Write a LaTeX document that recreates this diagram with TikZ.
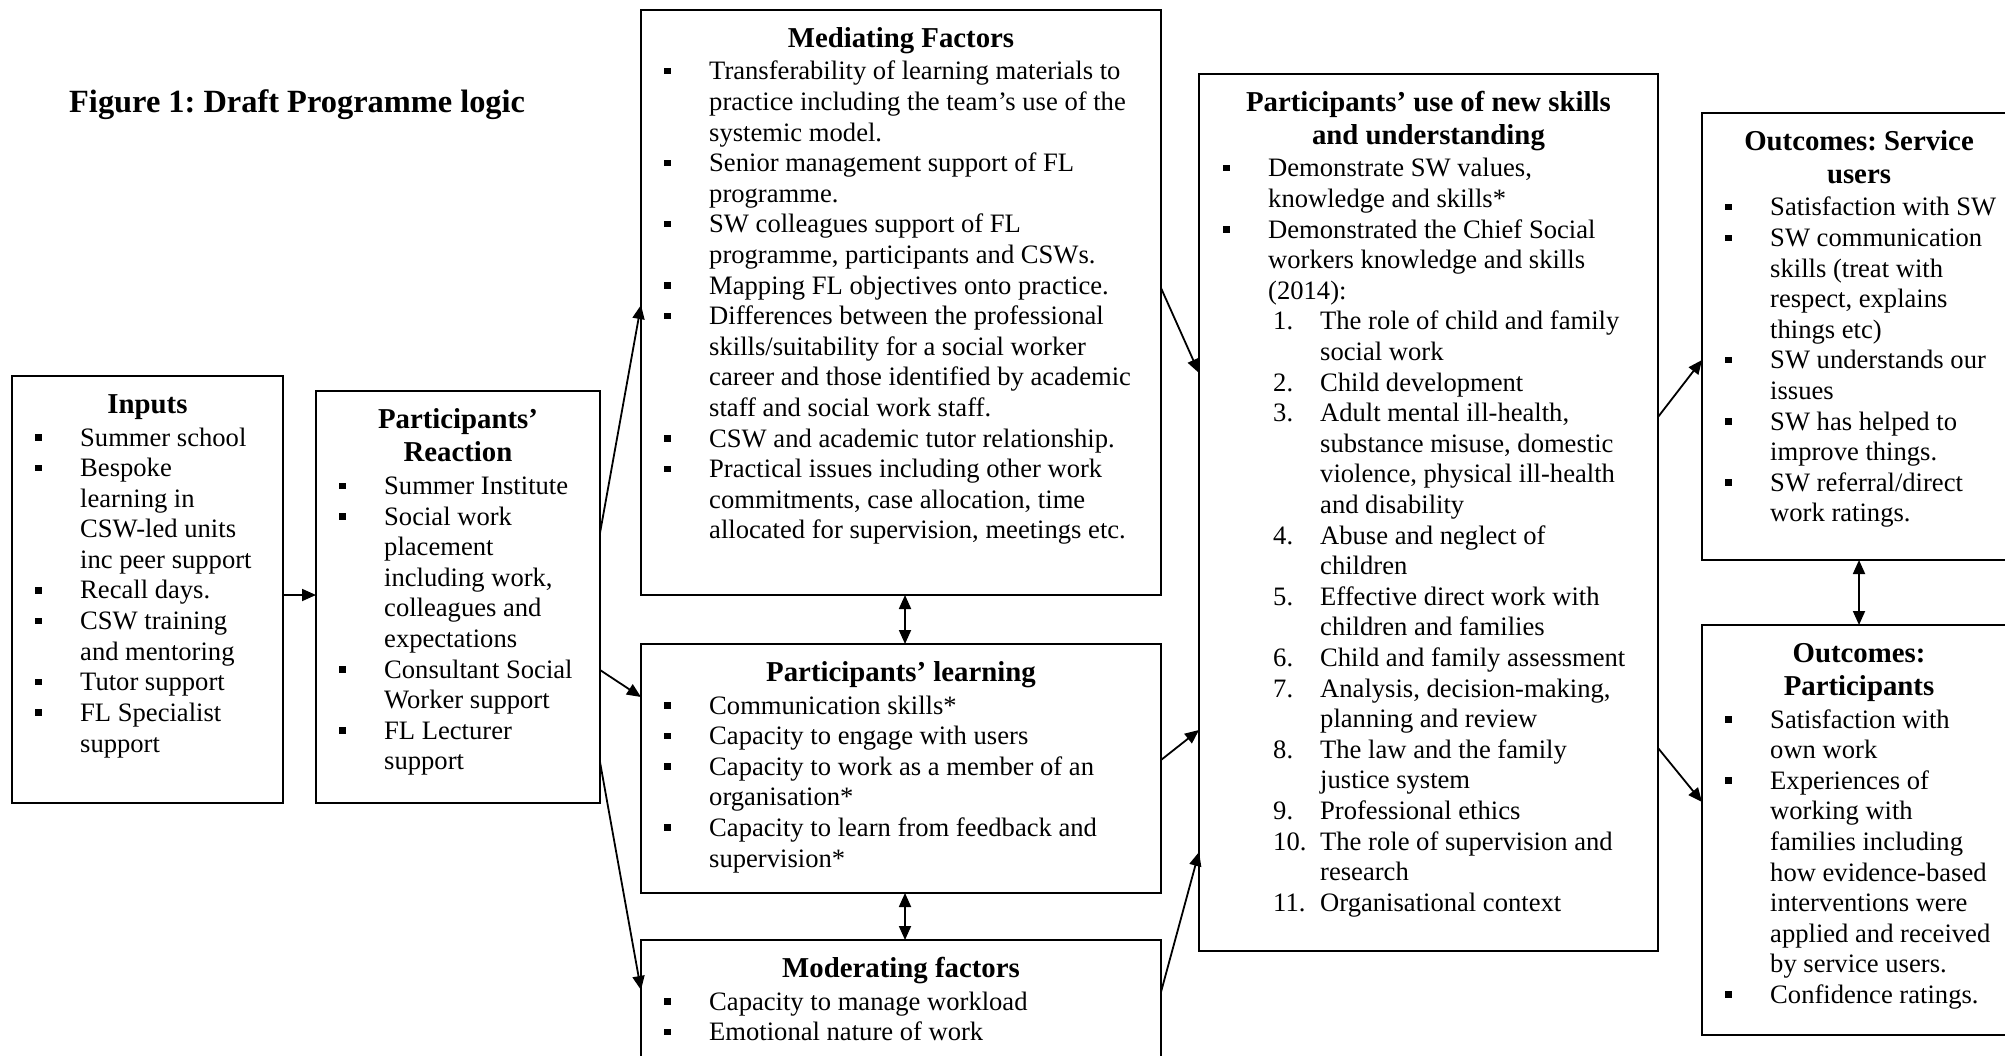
\documentclass[tikz,border=0pt]{standalone}
\usepackage{fontspec}
\setmainfont{Liberation Serif}
\usetikzlibrary{arrows.meta}
\frenchspacing

\newcommand{\sqb}{\rule[5.5pt]{6.5pt}{6.5pt}}
\newcommand{\bi}[1]{\makebox[45pt][l]{\sqb}#1}
\newcommand{\ci}[1]{\hspace*{45pt}#1}
\newcommand{\nit}[2]{\makebox[97pt][l]{\hspace*{50pt}#1}#2}
\newcommand{\nic}[1]{\hspace*{97pt}#1}
\newcommand{\itemfont}{\fontsize{26.6pt}{30.6pt}\selectfont\frenchspacing}
\newcommand{\headfont}{\fontsize{28.8pt}{33pt}\selectfont\bfseries\frenchspacing}
\newcommand{\titlefont}{\fontsize{32.4pt}{36pt}\selectfont\bfseries\frenchspacing}

\tikzset{
  box/.style={draw, line width=2pt, inner sep=0pt, outer sep=0pt, anchor=north west},
  hd/.style={anchor=base, inner sep=0pt, font=\headfont, align=center},
  items/.style={anchor=base west, inner sep=0pt, font=\itemfont},
  arr/.style={line width=1.8pt, -{Triangle[length=14pt,width=12pt]}},
  darr/.style={line width=1.8pt, {Triangle[length=14pt,width=12pt]}-{Triangle[length=14pt,width=12pt]}}
}

\begin{document}
\begin{tikzpicture}[x=1pt,y=-1pt]
\useasboundingbox (0,0) rectangle (2005,1056);
\clip (0,0) rectangle (2005,1056);
\fill[white] (0,0) rectangle (2005,1056);

% title
\node[anchor=base west, inner sep=0pt, font=\titlefont] (title) at (69,113) {Figure 1: Draft Programme logic};

% boxes
\node[box, minimum width=271pt, minimum height=427pt] (inp) at (12,376) {};
\node[box, minimum width=284pt, minimum height=412pt] (react) at (316,391) {};
\node[box, minimum width=520pt, minimum height=585pt] (med) at (641,10) {};
\node[box, minimum width=520pt, minimum height=249pt] (learn) at (641,644) {};
\node[box, minimum width=520pt, minimum height=140pt] (mod) at (641,940) {};
\node[box, minimum width=459pt, minimum height=877pt] (use) at (1199,74) {};
\node[box, minimum width=320pt, minimum height=447pt] (svc) at (1702,113) {};
\node[box, minimum width=320pt, minimum height=410pt] (pout) at (1702,625) {};

% Inputs
\node[hd] (inph) at (147.5,413.5) {\begin{tabular}[t]{@{}c@{}}Inputs\end{tabular}};
\node[items] (inpt) at (35,446) {\begin{tabular}[t]{@{}l@{}}
\bi{Summer school}\\
\bi{Bespoke}\\
\ci{learning in}\\
\ci{CSW-led units}\\
\ci{inc peer support}\\
\bi{Recall days.}\\
\bi{CSW training}\\
\ci{and mentoring}\\
\bi{Tutor support}\\
\bi{FL Specialist}\\
\ci{support}
\end{tabular}};

% Reaction
\node[hd] (reacth) at (458,428.5) {\begin{tabular}[t]{@{}c@{}}Participants’\\Reaction\end{tabular}};
\node[items] (reactt) at (339,494.5) {\begin{tabular}[t]{@{}l@{}}
\bi{Summer Institute}\\
\bi{Social work}\\
\ci{placement}\\
\ci{including work,}\\
\ci{colleagues and}\\
\ci{expectations}\\
\bi{Consultant Social}\\
\ci{Worker support}\\
\bi{FL Lecturer}\\
\ci{support}
\end{tabular}};

% Mediating
\node[hd] (medh) at (901,47.5) {\begin{tabular}[t]{@{}c@{}}Mediating Factors\end{tabular}};
\node[items] (medt) at (664,80) {\begin{tabular}[t]{@{}l@{}}
\bi{Transferability of learning materials to}\\
\ci{practice including the team’s use of the}\\
\ci{systemic model.}\\
\bi{Senior management support of FL}\\
\ci{programme.}\\
\bi{SW colleagues support of FL}\\
\ci{programme, participants and CSWs.}\\
\bi{Mapping FL objectives onto practice.}\\
\bi{Differences between the professional}\\
\ci{skills/suitability for a social worker}\\
\ci{career and those identified by academic}\\
\ci{staff and social work staff.}\\
\bi{CSW and academic tutor relationship.}\\
\bi{Practical issues including other work}\\
\ci{commitments, case allocation, time}\\
\ci{allocated for supervision, meetings etc.}
\end{tabular}};

% Learning
\node[hd] (learnh) at (901,681.5) {\begin{tabular}[t]{@{}c@{}}Participants’ learning\end{tabular}};
\node[items] (learnt) at (664,714) {\begin{tabular}[t]{@{}l@{}}
\bi{Communication skills*}\\
\bi{Capacity to engage with users}\\
\bi{Capacity to work as a member of an}\\
\ci{organisation*}\\
\bi{Capacity to learn from feedback and}\\
\ci{supervision*}
\end{tabular}};

% Moderating
\node[hd] (modh) at (901,977.5) {\begin{tabular}[t]{@{}c@{}}Moderating factors\end{tabular}};
\node[items] (modt) at (664,1010) {\begin{tabular}[t]{@{}l@{}}
\bi{Capacity to manage workload}\\
\bi{Emotional nature of work}
\end{tabular}};

% Use
\node[hd] (useh) at (1428.5,111.5) {\begin{tabular}[t]{@{}c@{}}Participants’ use of new skills\\and understanding\end{tabular}};
\node[items] (uset) at (1223,177) {\begin{tabular}[t]{@{}l@{}}
\bi{Demonstrate SW values,}\\
\ci{knowledge and skills*}\\
\bi{Demonstrated the Chief Social}\\
\ci{workers knowledge and skills}\\
\ci{(2014):}\\
\nit{1.}{The role of child and family}\\
\nic{social work}\\
\nit{2.}{Child development}\\
\nit{3.}{Adult mental ill-health,}\\
\nic{substance misuse, domestic}\\
\nic{violence, physical ill-health}\\
\nic{and disability}\\
\nit{4.}{Abuse and neglect of}\\
\nic{children}\\
\nit{5.}{Effective direct work with}\\
\nic{children and families}\\
\nit{6.}{Child and family assessment}\\
\nit{7.}{Analysis, decision-making,}\\
\nic{planning and review}\\
\nit{8.}{The law and the family}\\
\nic{justice system}\\
\nit{9.}{Professional ethics}\\
\nit{10.}{The role of supervision and}\\
\nic{research}\\
\nit{11.}{Organisational context}
\end{tabular}};

% Outcomes: Service users
\node[hd] (svch) at (1859,150.5) {\begin{tabular}[t]{@{}c@{}}Outcomes: Service\\users\end{tabular}};
\node[items] (svct) at (1725,216) {\begin{tabular}[t]{@{}l@{}}
\bi{Satisfaction with SW}\\
\bi{SW communication}\\
\ci{skills (treat with}\\
\ci{respect, explains}\\
\ci{things etc)}\\
\bi{SW understands our}\\
\ci{issues}\\
\bi{SW has helped to}\\
\ci{improve things.}\\
\bi{SW referral/direct}\\
\ci{work ratings.}
\end{tabular}};

% Outcomes: Participants
\node[hd] (pouth) at (1859,662.5) {\begin{tabular}[t]{@{}c@{}}Outcomes:\\Participants\end{tabular}};
\node[items] (poutt) at (1725,728) {\begin{tabular}[t]{@{}l@{}}
\bi{Satisfaction with}\\
\ci{own work}\\
\bi{Experiences of}\\
\ci{working with}\\
\ci{families including}\\
\ci{how evidence-based}\\
\ci{interventions were}\\
\ci{applied and received}\\
\ci{by service users.}\\
\bi{Confidence ratings.}
\end{tabular}};

% connectors
\draw[arr] ([yshift=-219pt]inp.north east) -- ([yshift=-204pt]react.north west);
\draw[arr] ([yshift=-142pt]react.north east) -- ([yshift=-295pt]med.north west);
\draw[arr] ([yshift=-279pt]react.north east) -- ([yshift=-53pt]learn.north west);
\draw[arr] ([yshift=-371pt]react.north east) -- ([yshift=-50pt]mod.north west);
\draw[arr] ([yshift=-278pt]med.north east) -- ([yshift=-299pt]use.north west);
\draw[arr] ([yshift=-116pt]learn.north east) -- ([yshift=-656pt]use.north west);
\draw[arr] ([yshift=-52pt]mod.north east) -- ([yshift=-778pt]use.north west);
\draw[arr] ([yshift=-343pt]use.north east) -- ([yshift=-247pt]svc.north west);
\draw[arr] ([yshift=-674pt]use.north east) -- ([yshift=-177pt]pout.north west);
\draw[darr] ([xshift=264pt]med.south west) -- ([xshift=264pt]learn.north west);
\draw[darr] ([xshift=264pt]learn.south west) -- ([xshift=264pt]mod.north west);
\draw[darr] ([xshift=157pt]svc.south west) -- ([xshift=157pt]pout.north west);
\end{tikzpicture}
\end{document}
